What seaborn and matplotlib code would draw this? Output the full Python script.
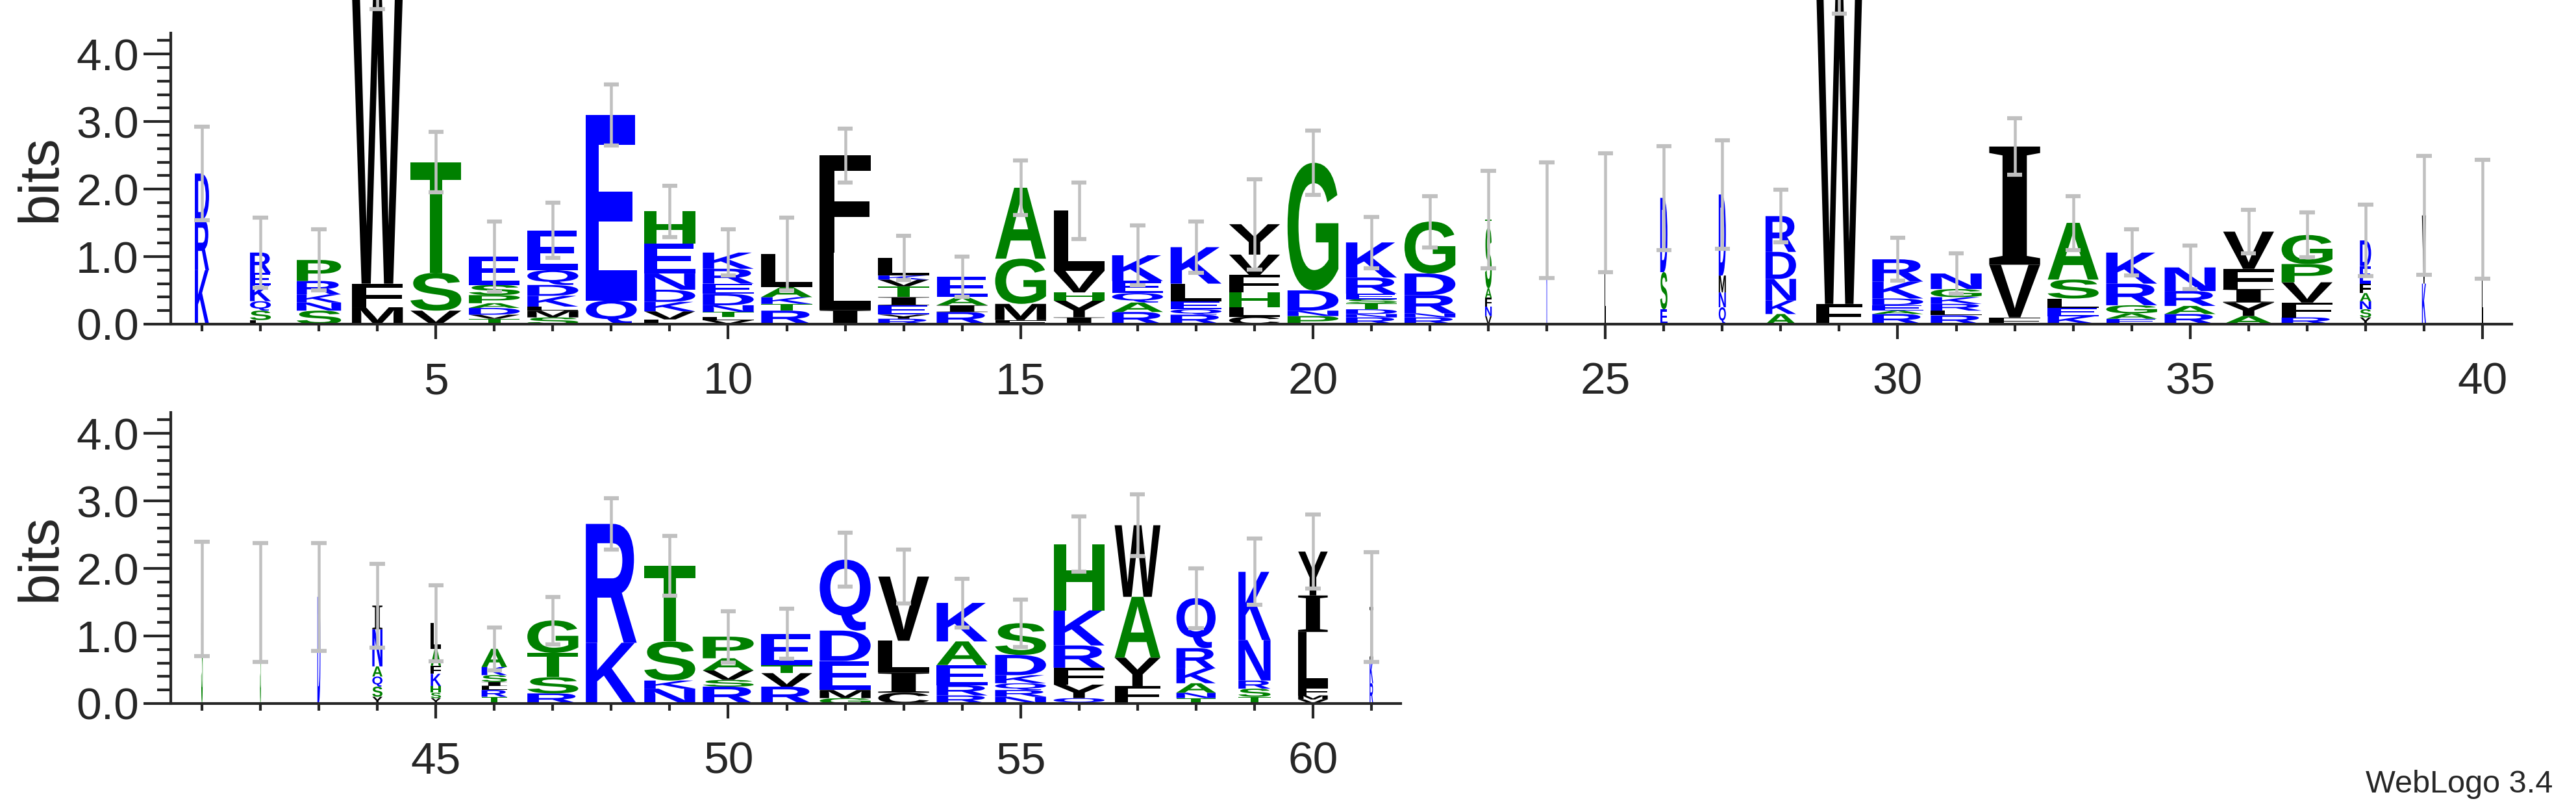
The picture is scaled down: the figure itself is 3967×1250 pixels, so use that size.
import matplotlib
matplotlib.use("Agg")
import matplotlib.pyplot as plt
import seaborn as sns
from matplotlib.textpath import TextPath
from matplotlib.font_manager import FontProperties
from matplotlib.patches import PathPatch
from matplotlib.transforms import Affine2D
from matplotlib.ticker import MultipleLocator

# ---- data: letters bottom->top, heights (bits), stack width fraction, error bar top ----
positions = list(range(1, 62))
letters = [
    "KRD", "LSQKER", "SNKRP", "MFW", "VST", "TVDAPSE", "SMLKDQE", "QE", "LVKDNEH", "VLTNDERK",
    "RTKAL", "ILF", "RYEITVKL", "RIAE", "FMGA", "IYHVL", "RAQEK", "RQELK", "CLHFVY", "PNDG",
    "RNDTSERK", "RNRDG", "VNFAST", "K", "L", "ESD", "QNMD", "AKNDR", "FW", "RAEDKR",
    "RLRKGN", "FVI", "KELSA", "EAGRK", "RARN", "AYIFV", "RFVPG", "YSNAFED", "KV", "L",
    "S", "S", "D", "YSQANI", "YSHKFAL", "TRLISKA", "RSTG", "KR", "NKST", "RSVAP",
    "RVTE", "GMEDQ", "CILV", "RREAK", "NRQKDS", "QYFRKH", "FYAW", "TNAKRQ", "TSRNK", "VMFLIY",
    "RKI",
]
heights = [
    [0.80, 0.75, 0.68], [0.06, 0.14, 0.14, 0.24, 0.18, 0.30], [0.20, 0.12, 0.12, 0.20, 0.31],
    [0.25, 0.35, 4.30], [0.20, 0.56, 1.64], [0.08, 0.06, 0.10, 0.07, 0.12, 0.15, 0.42],
    [0.10, 0.10, 0.06, 0.16, 0.16, 0.22, 0.59], [0.35, 2.75],
    [0.07, 0.12, 0.14, 0.18, 0.24, 0.44, 0.48], [0.06, 0.05, 0.07, 0.10, 0.17, 0.15, 0.22, 0.24],
    [0.20, 0.10, 0.10, 0.15, 0.49], [0.21, 0.85, 1.44],
    [0.08, 0.06, 0.14, 0.12, 0.16, 0.10, 0.06, 0.26], [0.18, 0.10, 0.12, 0.30],
    [0.06, 0.24, 0.67, 1.05], [0.10, 0.25, 0.12, 0.32, 0.89], [0.18, 0.14, 0.14, 0.18, 0.38],
    [0.14, 0.08, 0.12, 0.26, 0.54], [0.11, 0.14, 0.22, 0.26, 0.30, 0.45],
    [0.12, 0.08, 0.30, 1.89], [0.10, 0.05, 0.07, 0.09, 0.06, 0.08, 0.24, 0.52],
    [0.10, 0.06, 0.27, 0.32, 0.77], [0.12, 0.14, 0.13, 0.14, 0.90, 0.12], [1.54], [1.65],
    [0.22, 0.55, 1.10], [0.25, 0.22, 0.25, 1.20], [0.15, 0.20, 0.32, 0.40, 0.53], [0.30, 4.60],
    [0.15, 0.05, 0.08, 0.10, 0.25, 0.33], [0.13, 0.07, 0.10, 0.10, 0.12, 0.23], [0.10, 0.78, 1.75],
    [0.12, 0.12, 0.14, 0.28, 0.84], [0.08, 0.08, 0.12, 0.32, 0.46], [0.15, 0.12, 0.22, 0.35],
    [0.12, 0.20, 0.20, 0.30, 0.55], [0.10, 0.22, 0.30, 0.27, 0.43],
    [0.10, 0.12, 0.12, 0.12, 0.14, 0.26, 0.38], [0.60, 1.01], [1.55],
    [1.55], [1.50], [1.58], [0.10, 0.15, 0.15, 0.15, 0.55, 0.35],
    [0.08, 0.08, 0.10, 0.18, 0.12, 0.25, 0.38], [0.10, 0.10, 0.06, 0.06, 0.10, 0.12, 0.27],
    [0.15, 0.24, 0.36, 0.48], [0.90, 1.76], [0.22, 0.12, 0.58, 1.12], [0.25, 0.10, 0.14, 0.18, 0.32],
    [0.25, 0.20, 0.12, 0.46], [0.08, 0.12, 0.43, 0.45, 1.05], [0.16, 0.30, 0.47, 0.95],
    [0.12, 0.15, 0.30, 0.35, 0.57], [0.10, 0.10, 0.10, 0.12, 0.30, 0.47],
    [0.08, 0.20, 0.25, 0.33, 0.52, 0.98], [0.26, 0.42, 0.90, 1.06],
    [0.08, 0.08, 0.14, 0.22, 0.30, 0.74], [0.10, 0.12, 0.12, 0.60, 1.01],
    [0.06, 0.06, 0.12, 0.82, 0.54, 0.65], [0.30, 0.35, 0.78],
]
widths = [
    0.28, 0.41, 0.87, 1, 1, 1, 1, 1, 1, 1,
    1, 1, 1, 1, 1, 1, 1, 1, 1, 1,
    1, 1, 0.13, 0.02, 0.02, 0.14, 0.14, 0.6, 0.9, 1,
    1, 1, 1, 1, 1, 1, 1, 0.22, 0.08, 0.02,
    0.03, 0.02, 0.06, 0.2, 0.2, 0.5, 1, 1, 1, 1,
    1, 1, 1, 1, 1, 1, 0.9, 0.77, 0.63, 0.58,
    0.07,
]
err_top = [
    2.92, 1.58, 1.40, 4.67, 2.85, 1.52, 1.80, 3.55, 2.05, 1.40,
    1.58, 2.90, 1.31, 1.00, 2.42, 2.10, 1.46, 1.52, 2.15, 2.87,
    1.59, 1.90, 2.27, 2.40, 2.53, 2.64, 2.72, 1.99, 5.20, 1.28,
    1.05, 3.05, 1.90, 1.40, 1.16, 1.69, 1.65, 1.77, 2.49, 2.43,
    2.40, 2.38, 2.38, 2.07, 1.75, 1.13, 1.58, 3.04, 2.48, 1.37,
    1.40, 2.53, 2.28, 1.85, 1.54, 2.77, 3.10, 2.00, 2.44, 2.80,
    2.24,
]

BLUE, GREEN, BLACK = "#0000ff", "#008000", "#000000"
color_map = {}
for c in "KRDENQ":
    color_map[c] = BLUE
for c in "GSTAHP":
    color_map[c] = GREEN
for c in "FWLVIMYC":
    color_map[c] = BLACK

sns.set_style("ticks")
plt.rcParams["font.family"] = ["Liberation Sans", "DejaVu Sans"]

fp_sans = FontProperties(family="Liberation Sans", weight="bold")
fp_serif = FontProperties(family="Liberation Serif", weight="bold")
glyphs = {}


def glyph(ch):
    if ch not in glyphs:
        fp = fp_serif if ch == "I" else fp_sans
        glyphs[ch] = TextPath((0, 0), ch, size=1, prop=fp)
    return glyphs[ch]


def draw_letter(ax, ch, x, y0, h, w):
    p = glyph(ch)
    ext = p.get_extents()
    t = (Affine2D().translate(-ext.x0, -ext.y0)
         .scale(w / ext.width, h / ext.height)
         .translate(x - w / 2, y0))
    patch = PathPatch(t.transform_path(p), facecolor=color_map[ch], edgecolor="none",
                      transform=ax.transData, clip_on=False)
    ax.add_patch(patch)


fig = plt.figure(figsize=(3967 / 250, 1250 / 250), dpi=250)
ax_top = fig.add_axes([266 / 3967, 1 - 499 / 1250, 3602 / 3967, 448 / 1250])
ax_bot = fig.add_axes([266 / 3967, 1 - 1083 / 1250, 1891 / 3967, 448 / 1250])

FULL = 0.87
panels = [(ax_top, 1, 40), (ax_bot, 41, 61)]
for ax, p0, p1 in panels:
    for i in range(p0 - 1, p1):
        pos = positions[i]
        w = FULL * widths[i]
        y = 0.0
        for ch, h in zip(letters[i], heights[i]):
            draw_letter(ax, ch, pos, y, h, w)
            y += h
        half = err_top[i] - y
        lo, hi = y - half, y + half
        ax.plot([pos, pos], [lo, hi], color="#c0c0c0", lw=1.3, clip_on=False, zorder=5,
                solid_capstyle="butt")
        for yy in (lo, hi):
            ax.plot([pos - 0.13, pos + 0.13], [yy, yy], color="#c0c0c0", lw=1.8,
                    clip_on=False, zorder=5, solid_capstyle="butt")

    ax.set_xlim(p0 - 0.5, p1 + 0.5)
    ax.set_ylim(0, 4.31)
    sns.despine(ax=ax, top=True, right=True)
    ax.spines["left"].set_linewidth(1.2)
    ax.spines["bottom"].set_linewidth(1.2)
    ax.spines["left"].set_position(("outward", 1))
    ax.yaxis.set_minor_locator(MultipleLocator(0.2))
    ax.set_yticks([0, 1, 2, 3, 4])
    ax.set_yticklabels(["0.0", "1.0", "2.0", "3.0", "4.0"])
    ax.tick_params(axis="y", which="major", length=12, width=1.2, labelsize=20, pad=2)
    ax.tick_params(axis="y", which="minor", length=6, width=1.2)
    cols = positions[p0 - 1:p1]
    ax.set_xticks([c for c in cols if c % 5 == 0])
    ax.set_xticklabels([str(c) for c in cols if c % 5 == 0])
    ax.set_xticks([c for c in cols if c % 5 != 0], minor=True)
    ax.tick_params(axis="x", which="major", length=6.5, width=1.2, labelsize=20, pad=10)
    ax.tick_params(axis="x", which="minor", length=3.2, width=1.2)
    ax.set_ylabel("bits", fontsize=25, labelpad=4)

fig.text(0.991, 0.024, "WebLogo 3.4", ha="right", va="baseline", fontsize=14)
fig.savefig("out.png", dpi=250)
